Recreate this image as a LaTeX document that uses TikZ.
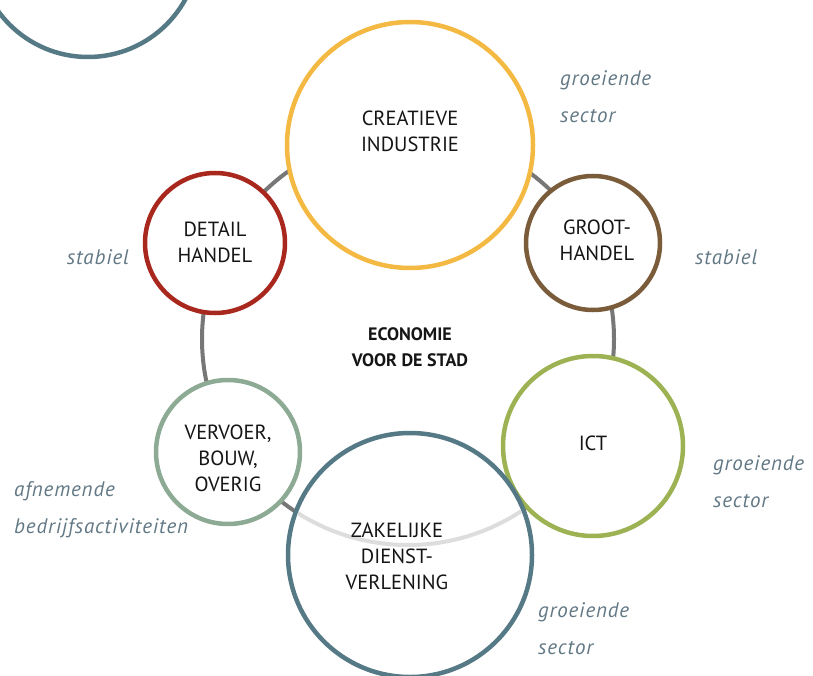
\documentclass[tikz,border=0pt]{standalone}
\usepackage{fontspec}
\setmainfont{PT Sans}
\newfontfamily\tagfont[LetterSpace=4]{PT Sans}
\definecolor{cyel}{HTML}{F4B942}
\definecolor{cred}{HTML}{A8281E}
\definecolor{cbrown}{HTML}{7A5C3A}
\definecolor{colive}{HTML}{9CB253}
\definecolor{cslate}{HTML}{557A85}
\definecolor{csage}{HTML}{8DAA94}
\definecolor{clab}{HTML}{627884}
\definecolor{cring}{HTML}{777777}
\definecolor{cringl}{HTML}{DDDDDD}
\definecolor{ctext}{HTML}{151515}
\begin{document}
\begin{tikzpicture}[x=1pt,y=-1pt,
  sectorc/.style={circle, draw=#1, line width=4.5pt, fill=white, inner sep=0pt},
  ringc/.style={circle, draw=cring, line width=4pt, inner sep=0pt, minimum size=412pt},
  lblc/.style={align=center, font=\fontsize{20.5}{26}\selectfont, text=ctext, inner sep=0pt},
  tagl/.style={align=left, font=\tagfont\fontsize{21}{37}\selectfont\itshape, text=clab, inner sep=0pt},
]
\useasboundingbox (0,0) rectangle (813,676);
% partial circle top-left
\node[sectorc=cslate, minimum size=222pt, fill=none] (top) at (88,-54) {};
% ring
\node[ringc] (ring) at (408,339) {};
% sector circles
\node[sectorc=cyel, minimum size=246pt] (cre) at (410,145) {};
\node[sectorc=cred, minimum size=140pt] (det) at (215,243) {};
\node[sectorc=cbrown, minimum size=134pt] (gro) at (593,243) {};
\node[sectorc=colive, minimum size=180pt] (ict) at (593,446) {};
\node[sectorc=csage, minimum size=144pt] (ver) at (228,452) {};
\node[sectorc=cslate, minimum size=244pt] (zak) at (410,555) {};
% light ring part inside zakelijke
\begin{scope}
  \clip (zak.center) circle [radius=119.5pt];
  \node[ringc, draw=cringl] (ringl) at (ring.center) {};
\end{scope}
% names
\node[lblc] (tcre) at (410,131) {CREATIEVE\\INDUSTRIE};
\node[lblc] (tdet) at (215,242) {DETAIL\\HANDEL};
\node[lblc] (tgro) at (597,240) {GROOT-\\HANDEL};
\node[lblc] (tict) at (593,443) {ICT};
\node[lblc] (tver) at (228,458) {VERVOER,\\BOUW,\\OVERIG};
\node[lblc] (tzak) at (397,556) {ZAKELIJKE\\DIENST-\\VERLENING};
\node[lblc, font=\fontsize{18}{26}\selectfont\bfseries] (teco) at (410,347) {ECONOMIE\\VOOR DE STAD};
% tags
\node[tagl, anchor=west] (g1) at (560,97) {groeiende\\sector};
\node[tagl, anchor=west] (s1) at (695,257) {stabiel};
\node[tagl, anchor=east] (s2) at (129,257) {stabiel};
\node[tagl, anchor=west] (g2) at (713,482) {groeiende\\sector};
\node[tagl, anchor=west] (af) at (14,510) {afnemende\\bedrijfsactiviteiten};
\node[tagl, anchor=west] (g3) at (538,629) {groeiende\\sector};
\end{tikzpicture}
\end{document}
